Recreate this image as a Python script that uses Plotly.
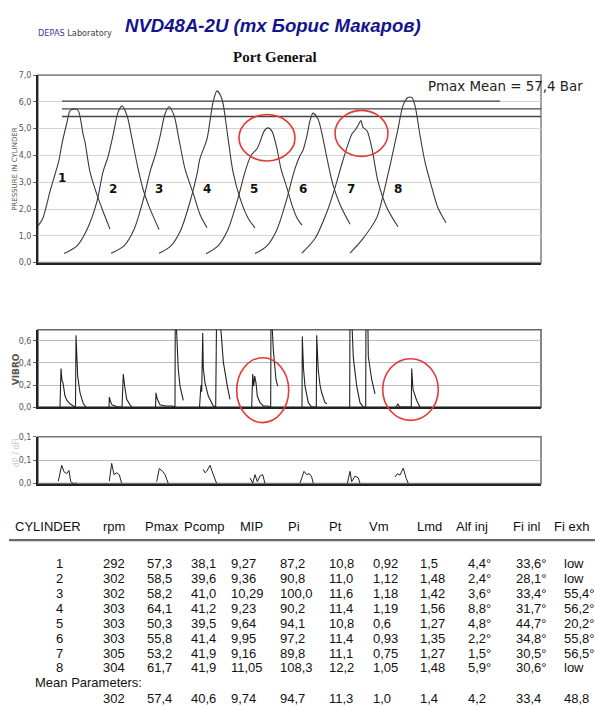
import plotly.graph_objects as go

W, H = 595, 707

# ---- pressure curves (x = sample position, y = pressure / 10 bar) ----
p1_x = [0, 5, 12, 17, 21, 24, 29, 32, 35, 39, 41, 45, 47, 52, 59, 65, 72]
p1_y = [1.37, 1.67, 2.66, 3.3, 3.83, 4.44, 5.24, 5.67, 5.73, 5.72, 5.61, 4.81, 4.5, 3.39, 2.53, 1.92, 1.25]
p2_x = [26, 39, 49, 59, 65, 70, 75, 80, 84, 89, 94, 100, 105, 111, 121]
p2_y = [0.34, 0.63, 1.24, 2.29, 3.39, 3.95, 4.75, 5.61, 5.85, 5.49, 4.62, 3.52, 2.75, 2.1, 1.24]
p3_x = [73, 86, 96, 106, 112, 118, 122, 127, 131, 136, 141, 147, 156, 162, 169]
p3_y = [0.35, 0.63, 1.24, 2.45, 3.39, 4.1, 4.7, 5.55, 5.82, 5.5, 4.6, 3.5, 2.5, 1.8, 1.3]
p4_x = [121, 133, 143, 153, 159, 162, 169, 175, 179, 184, 189, 195, 202, 210, 217]
p4_y = [0.35, 0.63, 1.24, 2.4, 3.3, 3.89, 4.62, 5.98, 6.41, 6.1, 4.92, 3.39, 2.41, 1.67, 1.3]
p5_x = [168, 180, 190, 200, 207, 213, 219, 222, 226, 230, 234, 239, 243, 249, 254, 259, 264]
p5_y = [0.33, 0.63, 1.24, 2.4, 3.39, 4.0, 4.25, 4.5, 4.9, 5.03, 4.9, 4.25, 3.5, 2.78, 2.15, 1.67, 1.4]
p6_x = [217, 229, 239, 249, 256, 262, 265, 269, 272, 275, 280, 284, 289, 295, 302, 312]
p6_y = [0.34, 0.63, 1.24, 2.4, 3.39, 4.0, 4.19, 4.75, 5.3, 5.58, 5.36, 4.81, 3.89, 2.9, 2.17, 1.43]
p7_x = [264, 277, 289, 297, 304, 309, 314, 317, 320, 323, 325, 329, 334, 340, 349, 360]
p7_y = [0.36, 0.9, 1.9, 2.8, 3.7, 4.3, 4.81, 4.94, 5.12, 5.3, 5.05, 4.92, 4.25, 3.03, 2.04, 1.34]
p8_x = [312, 325, 339, 345, 350, 355, 360, 365, 370, 374, 377, 382, 387, 394, 400, 408]
p8_y = [0.36, 0.9, 1.7, 2.5, 3.3, 4.13, 4.99, 5.86, 6.16, 6.16, 5.86, 4.75, 3.76, 2.78, 2.04, 1.49]
pressure = [(p1_x, p1_y), (p2_x, p2_y), (p3_x, p3_y), (p4_x, p4_y),
            (p5_x, p5_y), (p6_x, p6_y), (p7_x, p7_y), (p8_x, p8_y)]

cyl_labels = ["1", "2", "3", "4", "5", "6", "7", "8"]
cyl_label_x = [23.7, 75.3, 121.3, 169.3, 216, 264.7, 313, 360.3]
cyl_label_y = [3.15, 2.74, 2.74, 2.74, 2.74, 2.74, 2.74, 2.74]

pmax_mean = 57.4  # bar

# ---- vibro bursts ----
v1_x = [22, 22.3, 23, 24, 25, 27, 29, 32, 35, 37, 37.5, 38, 39.7, 42, 45.3, 48]
v1_y = [0, 0.34, 0.35, 0.24, 0.22, 0.10, 0.06, 0.03, 0.01, 0, 0.02, 0.65, 0.28, 0.13, 0.03, 0]
v2_x = [71, 71.3, 72.5, 74, 77, 80, 84, 85.3, 86.5, 88.7, 92, 94]
v2_y = [0, 0.09, 0.05, 0.02, 0.01, 0, 0, 0.30, 0.2, 0.07, 0.02, 0]
v3_x = [117.5, 118, 119, 122, 127, 134, 137, 137.3, 138.3, 140.3, 142, 145.3]
v3_y = [0, 0.13, 0.08, 0.02, 0.01, 0.01, 0, 0.95, 0.75, 0.34, 0.19, 0.06]
v4_x = [161.5, 162, 163, 163.7, 164.7, 165.3, 167, 170.3, 175.3, 177.7, 178.7, 181.3, 185.3, 189.3, 192]
v4_y = [0, 0.12, 0.2, 0.14, 0.67, 0.35, 0.22, 0.10, 0.01, 0, 0.95, 0.9, 0.41, 0.19, 0.07]
v5_x = [213.7, 214.7, 215.7, 216.7, 218, 219.3, 222, 225.3, 229.3, 232.7, 233, 235.3, 238, 239.7]
v5_y = [0, 0.30, 0.19, 0.28, 0.22, 0.10, 0.04, 0.01, 0.01, 0, 0.95, 0.52, 0.25, 0.19]
v6_x = [264, 264.3, 265.5, 267, 270.3, 273.7, 278.3, 278.7, 280, 280.3, 282, 283.7, 287, 289]
v6_y = [0, 0.64, 0.35, 0.19, 0.04, 0, 0, 0.65, 0.38, 0.33, 0.2, 0.13, 0.04, 0.03]
v7_x = [311.7, 312, 313.3, 315.3, 318.7, 322, 325.3, 327.7, 328, 329.7, 330.3, 333.7, 337]
v7_y = [0, 0.95, 0.9, 0.45, 0.19, 0.04, 0, 0, 0.95, 0.9, 0.46, 0.25, 0.12]
v8_x = [358, 359, 360, 361, 362, 373.3, 373.7, 375, 378.7, 382]
v8_y = [0, 0.01, 0.03, 0.01, 0, 0, 0.35, 0.16, 0.06, 0]
vibro = [(v1_x, v1_y), (v2_x, v2_y), (v3_x, v3_y), (v4_x, v4_y),
         (v5_x, v5_y), (v6_x, v6_y), (v7_x, v7_y), (v8_x, v8_y)]

# ---- dP / dFi ----
d1_x = [20.3, 23.7, 26, 28.7, 31, 32.7, 35.3, 38.7]
d1_y = [0.005, 0.039, 0.025, 0.021, 0.028, 0.004, 0, 0.001]
d2_x = [71.3, 73.7, 76, 78.7, 81.3, 83.7]
d2_y = [0.005, 0.043, 0.019, 0.023, 0.019, 0]
d3_x = [118.7, 121.3, 124.7, 127, 130.3]
d3_y = [0.004, 0.032, 0.026, 0.019, 0]
d4_x = [165.3, 167, 168.7, 172, 175.3, 178.7]
d4_y = [0.03, 0.023, 0.026, 0.039, 0.019, 0]
d5_x = [212, 214.7, 217, 219.3, 222, 224.7, 227]
d5_y = [0.012, 0.001, 0.019, 0.004, 0.016, 0.019, 0]
d6_x = [262, 266, 268.7, 271.3, 273.7, 275.3]
d6_y = [0.001, 0.026, 0.019, 0.021, 0.014, 0]
d7_x = [309.3, 312, 313.7, 317, 320.3, 322]
d7_y = [0, 0.026, 0.004, 0.016, 0.012, 0]
d8_x = [357, 359.3, 362, 365.3, 368, 370.3]
d8_y = [0.014, 0.021, 0.018, 0.033, 0.012, 0]
dpdfi = [(d1_x, d1_y), (d2_x, d2_y), (d3_x, d3_y), (d4_x, d4_y),
         (d5_x, d5_y), (d6_x, d6_y), (d7_x, d7_y), (d8_x, d8_y)]

# ---- table ----
headers = ["CYLINDER", "rpm", "Pmax", "Pcomp", "MIP", "Pi", "Pt", "Vm", "Lmd", "Alf inj", "Fi inl", "Fi exh"]
cylinder = ["1", "2", "3", "4", "5", "6", "7", "8"]
rpm = ["292", "302", "302", "303", "303", "303", "305", "304"]
pmax = ["57,3", "58,5", "58,2", "64,1", "50,3", "55,8", "53,2", "61,7"]
pcomp = ["38,1", "39,6", "41,0", "41,2", "39,5", "41,4", "41,9", "41,9"]
mip = ["9,27", "9,36", "10,29", "9,23", "9,64", "9,95", "9,16", "11,05"]
pi = ["87,2", "90,8", "100,0", "90,2", "94,1", "97,2", "89,8", "108,3"]
pt = ["10,8", "11,0", "11,6", "11,4", "10,8", "11,4", "11,1", "12,2"]
vm = ["0,92", "1,12", "1,18", "1,19", "0,6", "0,93", "0,75", "1,05"]
lmd = ["1,5", "1,48", "1,42", "1,56", "1,27", "1,35", "1,27", "1,48"]
alf_inj = ["4,4°", "2,4°", "3,6°", "8,8°", "4,8°", "2,2°", "1,5°", "5,9°"]
fi_inl = ["33,6°", "28,1°", "33,4°", "31,7°", "44,7°", "34,8°", "30,5°", "30,6°"]
fi_exh = ["low", "low", "55,4°", "56,2°", "20,2°", "55,8°", "56,5°", "low"]
mean_row = ["", "302", "57,4", "40,6", "9,74", "94,7", "11,3", "1,0", "1,4", "4,2", "33,4", "48,8"]

fig = go.Figure()

for xs, ys in pressure:
    fig.add_trace(go.Scatter(x=xs, y=ys, mode="lines", xaxis="x", yaxis="y",
                             line=dict(color="#3a3a3a", width=1.1, shape="spline", smoothing=0.8),
                             hoverinfo="skip", showlegend=False))

# Pmax mean and +/-5% lines
for k, x_end in [(1.05, 462), (1.0, 503), (0.95, 503)]:
    lvl = pmax_mean * k / 10
    fig.add_trace(go.Scatter(x=[24, x_end], y=[lvl, lvl], mode="lines", xaxis="x", yaxis="y",
                             line=dict(color="#444", width=1.4), hoverinfo="skip", showlegend=False))

for xs, ys in vibro:
    fig.add_trace(go.Scatter(x=xs, y=ys, mode="lines", xaxis="x2", yaxis="y2",
                             line=dict(color="#222", width=1.1), hoverinfo="skip", showlegend=False))

for xs, ys in dpdfi:
    fig.add_trace(go.Scatter(x=xs, y=ys, mode="lines", xaxis="x3", yaxis="y3",
                             line=dict(color="#222", width=1.0), hoverinfo="skip", showlegend=False))

xdom = [38 / W, 541 / W]


def ydom(top, bottom):
    return [1 - bottom / H, 1 - top / H]


def px(x):
    return x / W


def py(y):
    return 1 - y / H


tickfont = dict(family="DejaVu Sans", size=8, color="#555")
common_x = dict(domain=xdom, range=[0, 503], showticklabels=False, showgrid=False, zeroline=False,
                showline=True, linecolor="#222", linewidth=2, ticks="")

fig.update_layout(
    width=W, height=H, margin=dict(l=0, r=0, t=0, b=0), autosize=False,
    paper_bgcolor="white", plot_bgcolor="white",
    xaxis=dict(common_x, anchor="y"),
    yaxis=dict(domain=ydom(72, 262), range=[0, 7], anchor="x",
               tickvals=[0, 1, 2, 3, 4, 5, 6, 7],
               ticktext=["0,0", "1,0", "2,0", "3,0", "4,0", "5,0", "6,0", "7,0"],
               tickfont=tickfont, ticks="outside", ticklen=3, tickcolor="#666",
               showgrid=True, gridcolor="#d4d4d4", gridwidth=1, zeroline=False,
               showline=True, linecolor="#222", linewidth=2),
    xaxis2=dict(common_x, anchor="y2"),
    yaxis2=dict(domain=ydom(330, 408.3), range=[0, 0.7], anchor="x2",
                tickvals=[0, 0.2, 0.4, 0.6], ticktext=["0,0", "0,2", "0,4", "0,6"],
                tickfont=tickfont, ticks="outside", ticklen=3, tickcolor="#666",
                showgrid=True, gridcolor="#bbbbbb", gridwidth=1, zeroline=False,
                showline=True, linecolor="#222", linewidth=2),
    xaxis3=dict(common_x, anchor="y3"),
    yaxis3=dict(domain=ydom(438.3, 485.7), range=[0, 0.1], anchor="x3",
                tickvals=[0, 0.05, 0.1], ticktext=["0,0", "0,1", "0,1"],
                tickfont=tickfont, ticks="outside", ticklen=3, tickcolor="#666",
                showgrid=True, gridcolor="#bbbbbb", gridwidth=1, zeroline=False,
                showline=True, linecolor="#222", linewidth=2),
)

shapes = []
# frames (top / right border)
for xa, ya, col in [("x", "y", "#8a8a8a"), ("x2", "y2", "#666"), ("x3", "y3", "#777")]:
    shapes.append(dict(type="rect", xref=xa + " domain", yref=ya + " domain", x0=0, x1=1, y0=0, y1=1,
                       line=dict(color=col, width=1.6), layer="below"))
# red circles
for x0, x1, y0, y1 in [(239, 295, 112, 159), (335, 388, 107.7, 154.3),
                       (236.7, 288.7, 358.3, 424), (382.7, 438.3, 359.3, 421.7)]:
    shapes.append(dict(type="circle", xref="paper", yref="paper",
                       x0=px(x0), x1=px(x1), y0=py(y1), y1=py(y0),
                       line=dict(color="#e53935", width=1.6)))
# table header rule
shapes.append(dict(type="line", xref="paper", yref="paper", x0=px(9), x1=1.0, y0=py(543), y1=py(543),
                   line=dict(color="#6a6a6a", width=2.2)))
fig.update_layout(shapes=shapes)

ann = []
# cylinder numbers on pressure plot
for t, x, y in zip(cyl_labels, cyl_label_x, cyl_label_y):
    ann.append(dict(x=x, y=y, xref="x", yref="y", text=t, showarrow=False,
                    font=dict(family="DejaVu Sans", size=12, color="#111", weight="bold")))

ann.append(dict(x=px(426), y=py(84), xref="paper", yref="paper", xanchor="left", yanchor="middle",
                text="Pmax Mean = " + f"{pmax_mean:.1f}".replace(".", ",") + " Bar", showarrow=False,
                font=dict(family="DejaVu Sans", size=13.4, color="#222")))

# axis titles
ann.append(dict(x=px(15), y=py(167), xref="paper", yref="paper", xanchor="center", yanchor="middle",
                text="PRESSURE IN CYLINDER",
                textangle=-90, showarrow=False, font=dict(family="DejaVu Sans", size=7, color="#555")))
ann.append(dict(x=px(16), y=py(370), xref="paper", yref="paper", xanchor="center", yanchor="middle",
                text="<b>VIBRO</b>",
                textangle=-90, showarrow=False, font=dict(family="DejaVu Sans", size=9, color="#555")))
ann.append(dict(x=px(16), y=py(455), xref="paper", yref="paper", xanchor="center", yanchor="middle",
                text="dP / dFi",
                textangle=-90, showarrow=False, font=dict(family="DejaVu Sans", size=8, color="#c8c8c8")))

# headings
ann.append(dict(x=px(36), y=py(29), xref="paper", yref="paper", xanchor="left", yanchor="middle",
                text="<span style='color:#3d3d9e'>DEPAS</span> Laboratory", showarrow=False,
                font=dict(family="DejaVu Sans", size=8.2, color="#444")))
ann.append(dict(x=px(123), y=py(22), xref="paper", yref="paper", xanchor="left", yanchor="middle",
                text="<b><i>NVD48A-2U (mx Борис Макаров)</i></b>", showarrow=False,
                font=dict(family="Liberation Sans", size=18.6, color="#14148c")))
ann.append(dict(x=px(275), y=py(53.5), xref="paper", yref="paper", xanchor="center", yanchor="middle",
                text="<b>Port General</b>", showarrow=False,
                font=dict(family="Liberation Serif", size=15, color="#111")))

# table
tfont = dict(family="Liberation Sans", size=13, color="#111")
head_x = [13.3, 101, 142.7, 181.7, 237.7, 286, 326.7, 366.7, 415, 454.3, 511, 551.7]
for t, x in zip(headers, head_x):
    ann.append(dict(x=px(x), y=py(529), xref="paper", yref="paper", xanchor="left", yanchor="middle",
                    text=t, showarrow=False, font=tfont))

col_x = [54.3, 100.7, 145, 189.3, 229.3, 278.3, 326.7, 371, 418.3, 466, 514, 561.7]
row_y = [566.5, 582, 597, 612, 627.5, 642.5, 657.5, 672.5]
columns = [cylinder, rpm, pmax, pcomp, mip, pi, pt, vm, lmd, alf_inj, fi_inl, fi_exh]
for col, x in zip(columns, col_x):
    for v, y in zip(col, row_y):
        ann.append(dict(x=px(x), y=py(y), xref="paper", yref="paper", xanchor="left", yanchor="middle",
                        text=v, showarrow=False, font=tfont))

ann.append(dict(x=px(33), y=py(687.5), xref="paper", yref="paper", xanchor="left", yanchor="middle",
                text="Mean Parameters:", showarrow=False, font=tfont))
for v, x in zip(mean_row, col_x):
    if v:
        ann.append(dict(x=px(x), y=py(703), xref="paper", yref="paper", xanchor="left", yanchor="middle",
                        text=v, showarrow=False, font=tfont))

fig.update_layout(annotations=ann)

# page body has a default margin; drop it so the figure sits at the window corner
fig.write_html("out.html", config={"displayModeBar": False},
               post_script="document.body.style.margin='0px';document.body.style.overflow='hidden';")
